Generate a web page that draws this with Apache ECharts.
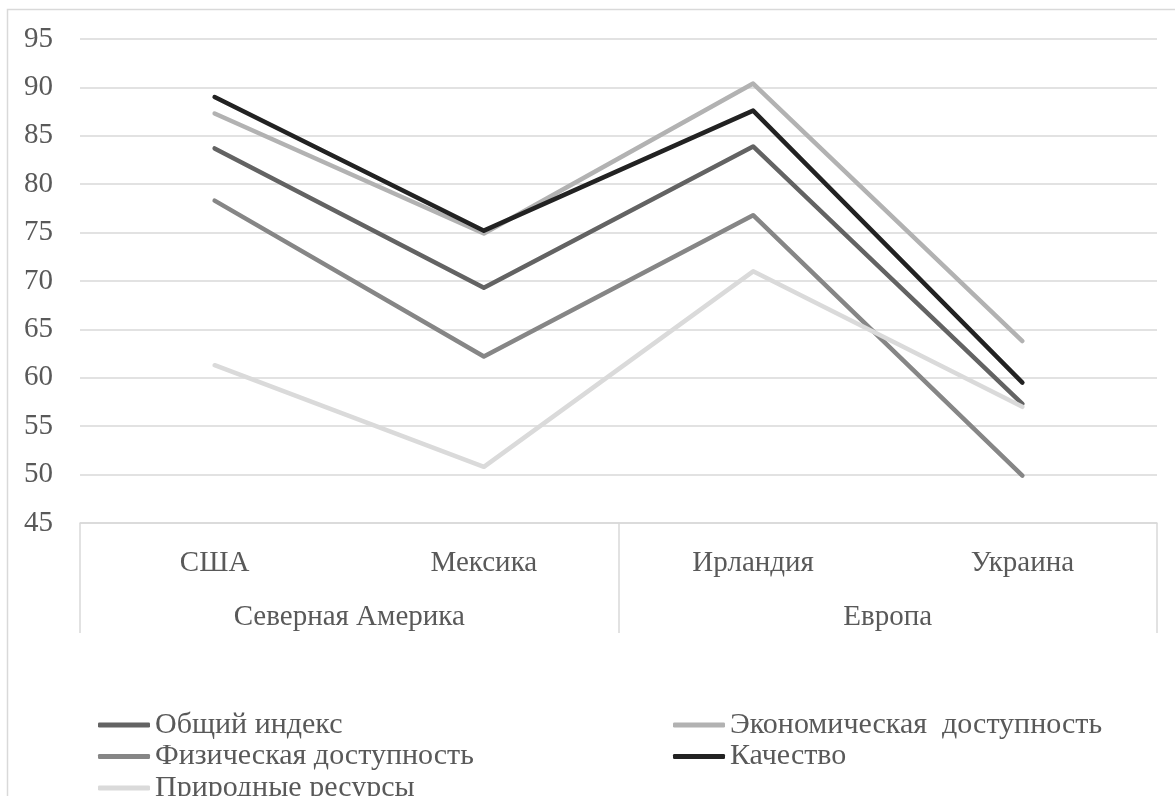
<!DOCTYPE html>
<html>
<head>
<meta charset="utf-8">
<script src="https://cdn.jsdelivr.net/npm/echarts@6/dist/echarts.min.js"></script>
<style>
html,body{margin:0;padding:0;background:#fff;}
#main{width:1175px;height:796px;}
</style>
</head>
<body>
<div id="main"></div>
<script>
const categories = ['США', 'Мексика', 'Ирландия', 'Украина'];
const groups = ['Северная Америка', 'Европа'];
const yTicks = { min: 45, max: 95, interval: 5 };

const seriesNames = ['Общий индекс', 'Экономическая  доступность', 'Физическая доступность', 'Качество', 'Природные ресурсы'];
const obshchiy   = [83.7, 69.3, 83.9, 57.3];
const ekonom     = [87.3, 74.9, 90.4, 63.8];
const fizich     = [78.3, 62.2, 76.8, 49.9];
const kachestvo  = [89.0, 75.2, 87.6, 59.5];
const prirodnye  = [61.3, 50.8, 71.0, 57.0];

const seriesData = [obshchiy, ekonom, fizich, kachestvo, prirodnye];
const colors = ['#636363', '#b2b2b2', '#868686', '#222222', '#dadada'];

const FONT = "'Liberation Serif', 'Times New Roman', serif";
const TXT = '#595959';
const GRID = '#d9d9d9';

const chart = echarts.init(document.getElementById('main'), null, { renderer: 'canvas' });

const legendText = { fontFamily: FONT, fontSize: 30, color: TXT, lineHeight: 30 };

chart.setOption({
  animation: false,
  backgroundColor: '#ffffff',
  color: colors,
  graphic: [{
    type: 'rect',
    shape: { x: 7.5, y: 9.5, width: 1300, height: 1000 },
    style: { fill: 'none', stroke: GRID, lineWidth: 1.5 },
    silent: true, z: -1
  }],
  grid: { left: 80, right: 18, top: 39, bottom: 273, containLabel: false },
  xAxis: [{
    type: 'category',
    data: categories,
    boundaryGap: true,
    position: 'bottom',
    axisLine: { show: true, lineStyle: { color: GRID, width: 1.5 } },
    axisTick: { show: false },
    axisLabel: { fontFamily: FONT, fontSize: 29, color: TXT, margin: 26 }
  }, {
    type: 'category',
    data: groups,
    boundaryGap: true,
    position: 'bottom',
    axisLine: { show: false },
    axisTick: { show: true, length: 110, lineStyle: { color: GRID, width: 1.5 } },
    axisLabel: { fontFamily: FONT, fontSize: 29, color: TXT, margin: 80 }
  }],
  yAxis: {
    type: 'value',
    min: yTicks.min, max: yTicks.max, interval: yTicks.interval,
    axisLine: { show: false },
    axisTick: { show: false },
    axisLabel: { fontFamily: FONT, fontSize: 29, color: TXT, margin: 27 },
    splitLine: { show: true, lineStyle: { color: GRID, width: 1.5 } }
  },
  legend: [{
    orient: 'vertical', left: 93, top: 705, height: 140, itemGap: 1.5,
    itemWidth: 52, itemHeight: 5, icon: 'roundRect',
    data: [seriesNames[0], seriesNames[2], seriesNames[4]],
    textStyle: legendText, selectedMode: false
  }, {
    orient: 'vertical', left: 668, top: 705, height: 140, itemGap: 1.5,
    itemWidth: 52, itemHeight: 5, icon: 'roundRect',
    data: [seriesNames[1], seriesNames[3]],
    textStyle: legendText, selectedMode: false
  }],
  series: seriesNames.map((name, i) => ({
    name: name,
    type: 'line',
    xAxisIndex: 0,
    data: seriesData[i],
    symbol: 'none',
    lineStyle: { color: colors[i], width: 4.5, cap: 'round', join: 'round' },
    itemStyle: { color: colors[i] }
  }))
});
</script>
</body>
</html>
